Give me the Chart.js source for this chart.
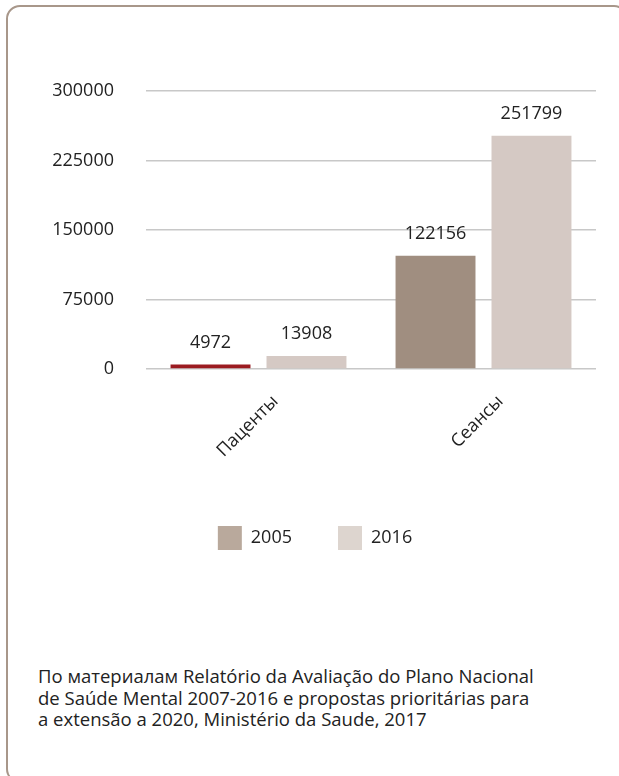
<!DOCTYPE html>
<html>
<head>
<meta charset="utf-8">
<script src="https://cdn.jsdelivr.net/npm/chart.js@4"></script>
<style>
    body { margin: 0; background: #fff; }
    #frame {
        position: absolute; left: 6px; top: 5px; width: 622px; height: 778px;
        box-sizing: border-box; border: 2px solid #a8978a; border-radius: 14px;
    }
    #chartBox { position: absolute; left: 0; top: 0; width: 619px; height: 620px; }
    #source {
        position: absolute; left: 38px; top: 665px; width: 570px;
        font-family: "Open Sans", sans-serif; font-size: 18.5px; line-height: 21.5px; color: #222;
    }
</style>
</head>
<body>
<div id="frame"></div>
<div id="chartBox"><canvas id="chart"></canvas></div>
<div id="source">По материалам Relatório da Avaliação do Plano Nacional<br>de Saúde Mental 2007-2016 e propostas prioritárias para<br>a extensão a 2020, Ministério da Saude, 2017</div>
<script>
const categories = ["Паценты", "Сеансы"];
const seriesNames = ["2005", "2016"];
const values2005 = [4972, 122156];
const values2016 = [13908, 251799];
const yTicks = [0, 75000, 150000, 225000, 300000];

const TEXT = "#222";
const FONT = "'Open Sans', sans-serif";

// values printed above each bar
const barLabels = {
    id: "barLabels",
    afterDatasetsDraw(chart) {
        const ctx = chart.ctx;
        ctx.save();
        ctx.font = "18px " + FONT;
        ctx.fillStyle = TEXT;
        ctx.textAlign = "center";
        ctx.textBaseline = "middle";
        chart.data.datasets.forEach((ds, i) => {
            chart.getDatasetMeta(i).data.forEach((bar, j) => {
                ctx.fillText(String(ds.data[j]), bar.x, bar.y - 22);
            });
        });
        ctx.restore();
    }
};

new Chart(document.getElementById("chart"), {
    type: "bar",
    data: {
        labels: categories,
        datasets: [{
            label: seriesNames[0],
            data: values2005,
            backgroundColor: ["#9b1b21", "#a08e80"],
            legendColor: "#b9a99c"
        }, {
            label: seriesNames[1],
            data: values2016,
            backgroundColor: "#d5c9c4",
            legendColor: "#ddd5cf"
        }]
    },
    options: {
        responsive: true,
        maintainAspectRatio: false,
        animation: false,
        categoryPercentage: 0.853,
        barPercentage: 0.833,
        layout: { padding: { left: 34, right: 23, top: 91, bottom: 60 } },
        scales: {
            x: {
                grid: { display: false },
                border: { display: false },
                afterFit: s => { s.height = 111; },
                ticks: {
                    color: TEXT,
                    font: { family: FONT, size: 18 },
                    minRotation: 45,
                    maxRotation: 45,
                    labelOffset: 17,
                    padding: 14
                }
            },
            y: {
                min: 0,
                max: 300000,
                afterFit: s => { s.width = 112; },
                afterBuildTicks: s => { s.ticks = yTicks.map(v => ({ value: v })); },
                grid: { color: "#c8c8c8", lineWidth: 1.5, drawTicks: false },
                border: { display: false },
                ticks: {
                    color: TEXT,
                    padding: 32,
                    font: { family: FONT, size: 18 },
                    callback: v => String(v)
                }
            }
        },
        plugins: {
            tooltip: { enabled: false },
            legend: {
                position: "bottom",
                labels: {
                    color: TEXT,
                    font: { family: FONT, size: 18 },
                    boxWidth: 24,
                    boxHeight: 24,
                    padding: 46,
                    generateLabels: chart => chart.data.datasets.map((ds, i) => ({
                        text: ds.label,
                        fillStyle: ds.legendColor,
                        strokeStyle: ds.legendColor,
                        lineWidth: 0,
                        fontColor: TEXT,
                        datasetIndex: i
                    }))
                }
            }
        }
    },
    plugins: [barLabels]
});
</script>
</body>
</html>
